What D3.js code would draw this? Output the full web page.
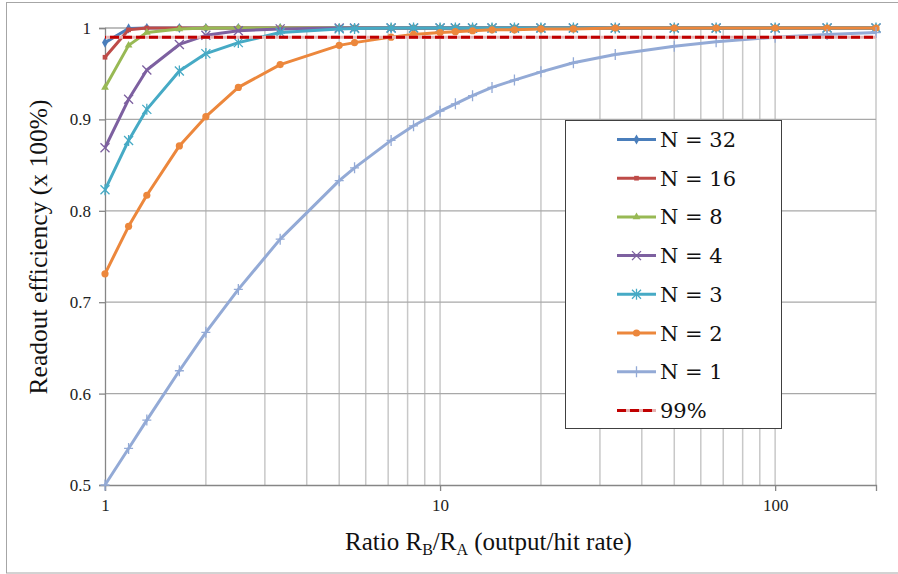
<!DOCTYPE html>
<html><head><meta charset="utf-8">
<script src="https://cdn.jsdelivr.net/npm/d3@7"></script>
<style>
html,body{margin:0;padding:0;background:#fff;}
svg{display:block;}
#fontwarm{position:absolute;left:0;top:0;opacity:0;pointer-events:none;white-space:nowrap;}
</style></head>
<body>
<div id="fontwarm"><span style="font-family:'Liberation Serif'">Ratio (output/hit rate) Readout 0.9 10</span><span style="font-family:'DejaVu Serif'">N = 32 99%</span></div>
<svg id="chart" width="898" height="574"></svg>
<script>
// ---- data ----
const ratios = [1, 1.176, 1.333, 1.667, 2, 2.5, 3.333, 5, 5.556, 7.143, 8.333, 10, 11.11, 12.5, 14.29, 16.67, 20, 25, 33.33, 50, 66.67, 100, 142.9, 200];
const effN32 = [0.984, 0.9995, 1, 1, 1, 1, 1, 1, 1, 1, 1, 1, 1, 1, 1, 1, 1, 1, 1, 1, 1, 1, 1, 1];
const effN16 = [0.968, 0.998, 1, 1, 1, 1, 1, 1, 1, 1, 1, 1, 1, 1, 1, 1, 1, 1, 1, 1, 1, 1, 1, 1];
const effN8  = [0.935, 0.981, 0.995, 0.999, 1, 1, 1, 1, 1, 1, 1, 1, 1, 1, 1, 1, 1, 1, 1, 1, 1, 1, 1, 1];
const effN4  = [0.869, 0.922, 0.954, 0.982, 0.992, 0.997, 0.999, 1, 1, 1, 1, 1, 1, 1, 1, 1, 1, 1, 1, 1, 1, 1, 1, 1];
const effN3  = [0.823, 0.877, 0.911, 0.953, 0.972, 0.984, 0.995, 0.999, 0.9995, 1, 1, 1, 1, 1, 1, 1, 1, 1, 1, 1, 1, 1, 1, 1];
const effN2  = [0.731, 0.783, 0.817, 0.871, 0.903, 0.935, 0.960, 0.981, 0.984, 0.990, 0.993, 0.995, 0.996, 0.997, 0.998, 0.998, 0.999, 0.999, 1, 1, 1, 1, 1, 1];
const effN1  = [0.500, 0.540, 0.571, 0.625, 0.667, 0.714, 0.769, 0.833, 0.847, 0.877, 0.893, 0.909, 0.917, 0.926, 0.935, 0.943, 0.952, 0.962, 0.971, 0.980, 0.985, 0.990, 0.993, 0.995];
const thresholdX = [1, 200];
const thresholdY = [0.99, 0.99];
const seriesNames = ["N = 32", "N = 16", "N = 8", "N = 4", "N = 3", "N = 2", "N = 1"];
const thresholdName = "99%";
const yTicks = [0.5, 0.6, 0.7, 0.8, 0.9, 1];
const xTickLabels = [1, 10, 100];
const xTitle = ["Ratio R", "B", "/R", "A", " (output/hit rate)"];
const yTitle = "Readout efficiency (x 100%)";

// ---- styles ----
const colors = ["#4A7EBB", "#BE4B48", "#98B954", "#7D60A0", "#46AAC5", "#EC873C", "#93AAD6"];
const markers = ["diamond", "square", "triangle", "x", "star", "circle", "plus"];
const allSeries = [effN32, effN16, effN8, effN4, effN3, effN2, effN1];
const axisFont = "'Liberation Serif'";
const legendFont = "'DejaVu Serif'";

const svg = d3.select("#chart");
const pL = 105, pR = 876, pT = 28, pB = 485;
const x = d3.scaleLog().domain([1, 200]).range([pL, pR]);
const y = d3.scaleLinear().domain([0.5, 1]).range([pB, pT]);

// outer frame
svg.append("rect").attr("x", 6.5).attr("y", 2.5).attr("width", 900).attr("height", 570.5)
  .attr("fill", "none").attr("stroke", "#a6a6a6").attr("stroke-width", 1);

// gridlines
const grid = svg.append("g");
x.ticks().filter(t => t > 1).forEach(t => {
  grid.append("line").attr("x1", x(t)).attr("x2", x(t)).attr("y1", pT).attr("y2", pB)
    .attr("stroke", "#c8c8c8").attr("stroke-width", 1.5);
});
yTicks.filter(t => t > 0.5).forEach(t => {
  grid.append("line").attr("x1", pL).attr("x2", pR).attr("y1", y(t)).attr("y2", y(t))
    .attr("stroke", "#a8a8a8").attr("stroke-width", 1.3);
});

// axes
const yAxis = d3.axisLeft(y).tickValues(yTicks).tickSize(6).tickPadding(8)
  .tickFormat(d => d === 1 ? "1" : d3.format(".1f")(d));
const gy = svg.append("g").attr("transform", `translate(${pL},0)`).call(yAxis);
const xAxis = d3.axisBottom(x).tickValues(xTickLabels).tickSize(6).tickPadding(8).tickFormat(d3.format("d"));
const gx = svg.append("g").attr("transform", `translate(0,${pB})`).call(xAxis);
[gx, gy].forEach(g => {
  g.attr("font-family", null).attr("font-size", null).style("font-family", axisFont).style("font-size", "17px");
  g.select(".domain").attr("stroke", "#868686").attr("stroke-width", 1.3);
  g.selectAll(".tick line").attr("stroke", "#868686").attr("stroke-width", 1.3);
  g.selectAll(".tick text").style("font-family", axisFont).style("font-size", "17px").attr("fill", "#222");
});

// marker drawing
function drawMarker(g, type, color, cx, cy) {
  const m = g.append("g").attr("transform", `translate(${cx},${cy})`);
  if (type === "diamond") m.append("path").attr("d", d3.symbol(d3.symbolDiamond, 30)()).attr("fill", color);
  else if (type === "square") m.append("path").attr("d", d3.symbol(d3.symbolSquare, 22)()).attr("fill", color);
  else if (type === "triangle") m.append("path").attr("d", d3.symbol(d3.symbolTriangle, 26)()).attr("fill", color);
  else if (type === "circle") m.append("circle").attr("r", 3.6).attr("fill", color);
  else {
    const s = 4.5, paths = [];
    if (type === "x" || type === "star") { paths.push(`M${-s},${-s}L${s},${s}`, `M${-s},${s}L${s},${-s}`); }
    if (type === "star") paths.push(`M0,${-s - 1}L0,${s + 1}`);
    if (type === "plus") paths.push(`M0,-5.5L0,5.5`, `M-4.5,0L4.5,0`);
    m.append("path").attr("d", paths.join("")).attr("stroke", color).attr("stroke-width", 1.3).attr("fill", "none");
  }
}

// series
const line = d3.line().x(d => x(d[0])).y(d => y(d[1]));
allSeries.forEach((vals, i) => {
  const pts = ratios.map((r, j) => [r, vals[j]]);
  const g = svg.append("g");
  g.append("path").attr("d", line(pts)).attr("fill", "none").attr("stroke", colors[i])
    .attr("stroke-width", 3).attr("stroke-linejoin", "round");
  pts.forEach(p => drawMarker(g, markers[i], colors[i], x(p[0]), y(p[1])));
});

// 99% threshold
const thr = thresholdX.map((v, i) => [v, thresholdY[i]]);
svg.append("path").attr("d", line(thr)).attr("stroke", "#e6b3b3").attr("stroke-width", 3).attr("fill", "none");
svg.append("path").attr("d", line(thr)).attr("stroke", "#C00000").attr("stroke-width", 3)
  .attr("stroke-dasharray", "9,4").attr("stroke-dashoffset", 8).attr("fill", "none");

// legend
const lg = svg.append("g");
lg.append("rect").attr("x", 565.5).attr("y", 120.5).attr("width", 216).attr("height", 308)
  .attr("fill", "#fff").attr("stroke", "#404040").attr("stroke-width", 1);
const rowY = i => 139.5 + i * 38.7;
seriesNames.forEach((name, i) => {
  const yy = rowY(i);
  lg.append("line").attr("x1", 617).attr("x2", 656).attr("y1", yy).attr("y2", yy)
    .attr("stroke", colors[i]).attr("stroke-width", 3);
  drawMarker(lg, markers[i], colors[i], 636.5, yy);
  lg.append("text").attr("x", 660).attr("y", yy + 7.5).text(name)
    .style("font-family", legendFont).style("font-size", "21px").attr("fill", "#111");
});
{
  const yy = rowY(7);
  lg.append("line").attr("x1", 617).attr("x2", 656).attr("y1", yy).attr("y2", yy)
    .attr("stroke", "#e6b3b3").attr("stroke-width", 3);
  lg.append("line").attr("x1", 617).attr("x2", 656).attr("y1", yy).attr("y2", yy)
    .attr("stroke", "#C00000").attr("stroke-width", 3).attr("stroke-dasharray", "9,4");
  lg.append("text").attr("x", 660).attr("y", yy + 7.5).text(thresholdName)
    .style("font-family", legendFont).style("font-size", "21px").attr("fill", "#111");
}

// axis titles
const xt = svg.append("text").attr("x", 488.5).attr("y", 550).attr("text-anchor", "middle")
  .style("font-family", axisFont).style("font-size", "25px").attr("fill", "#111");
xTitle.forEach((s, i) => {
  const ts = xt.append("tspan").text(s);
  if (i === 1 || i === 3) ts.style("font-size", "16px").attr("dy", 5);
  else if (i === 2 || i === 4) ts.attr("dy", -5);
});
svg.append("text").attr("transform", "translate(47,247) rotate(-90)").attr("text-anchor", "middle")
  .style("font-family", axisFont).style("font-size", "25.5px").attr("fill", "#111").text(yTitle);
</script>
</body></html>
